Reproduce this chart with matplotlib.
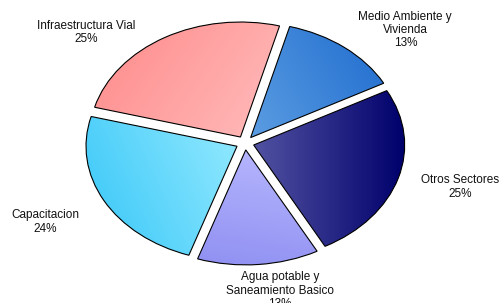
import numpy as np
import matplotlib
matplotlib.use("Agg")
import matplotlib.pyplot as plt
from matplotlib.colors import to_rgb

plt.rcParams["font.family"] = ["Liberation Sans", "DejaVu Sans"]

# data, clockwise from the top-left slice
sectors = ["Infraestructura Vial", "Medio Ambiente y\nVivienda", "Otros Sectores",
           "Agua potable y\nSaneamiento Basico", "Capacitacion"]
shares = [25, 13, 25, 13, 24]

# gradient colours per slice: (start, end, direction of change in degrees)
grads = [
    ("#ff8a8a", "#ffbcbc", -35),
    ("#5b9de2", "#1f6ccf", 30),
    ("#5252a2", "#00006c", 0),
    ("#9090f2", "#b8b8ff", 80),
    ("#36c6f8", "#94eaff", 25),
]

# label placement in axes fraction
label_pos = [(0.172, 0.893), (0.809, 0.901), (0.918, 0.383), (0.559, 0.041), (0.090, 0.267)]

W, H = 501, 303
cx, cy = 245, 143      # pie centre, px from top-left
rx, ry = 151, 115      # ellipse radii, px

fig = plt.figure(figsize=(W / 100, H / 100), dpi=100)
ax = fig.add_axes([0, 0, 1, 1])
ax.set_axis_off()


def fill_gradient(ax, wedge, c0, c1, ang):
    x0, y0, x1, y1 = wedge.get_path().get_extents().extents
    n = 200
    xs = np.linspace(x0, x1, n)
    ys = np.linspace(y0, y1, n)
    X, Y = np.meshgrid(xs, ys)
    d = np.array([np.cos(np.radians(ang)) * rx, np.sin(np.radians(ang)) * ry])
    t = X * d[0] + Y * d[1]
    t = (t - t.min()) / (t.max() - t.min())
    a, b = np.array(to_rgb(c0)), np.array(to_rgb(c1))
    img = a[None, None, :] * (1 - t[..., None]) + b[None, None, :] * t[..., None]
    im = ax.imshow(img, extent=(x0, x1, y0, y1), origin="lower",
                   aspect="auto", interpolation="bilinear", zorder=1)
    im.set_clip_path(wedge)


wedges, _ = ax.pie(shares, startangle=165, counterclock=False,
                   explode=[0.06] * len(shares),
                   wedgeprops=dict(facecolor="none", edgecolor="black", linewidth=0.8),
                   frame=False)
for w, (c0, c1, ang) in zip(wedges, grads):
    w.set_zorder(2)
    fill_gradient(ax, w, c0, c1, ang)

for name, pct, (lx, ly) in zip(sectors, shares, label_pos):
    ax.text(lx, ly, f"{name}\n{pct}%", transform=ax.transAxes, ha="center", va="center",
            fontsize=8.5, color="#111111", linespacing=1.15)

ax.set_aspect("auto")
ax.set_xlim(-cx / rx, (W - cx) / rx)
ax.set_ylim((cy - H) / ry, cy / ry)

fig.savefig("out.png", dpi=100)
